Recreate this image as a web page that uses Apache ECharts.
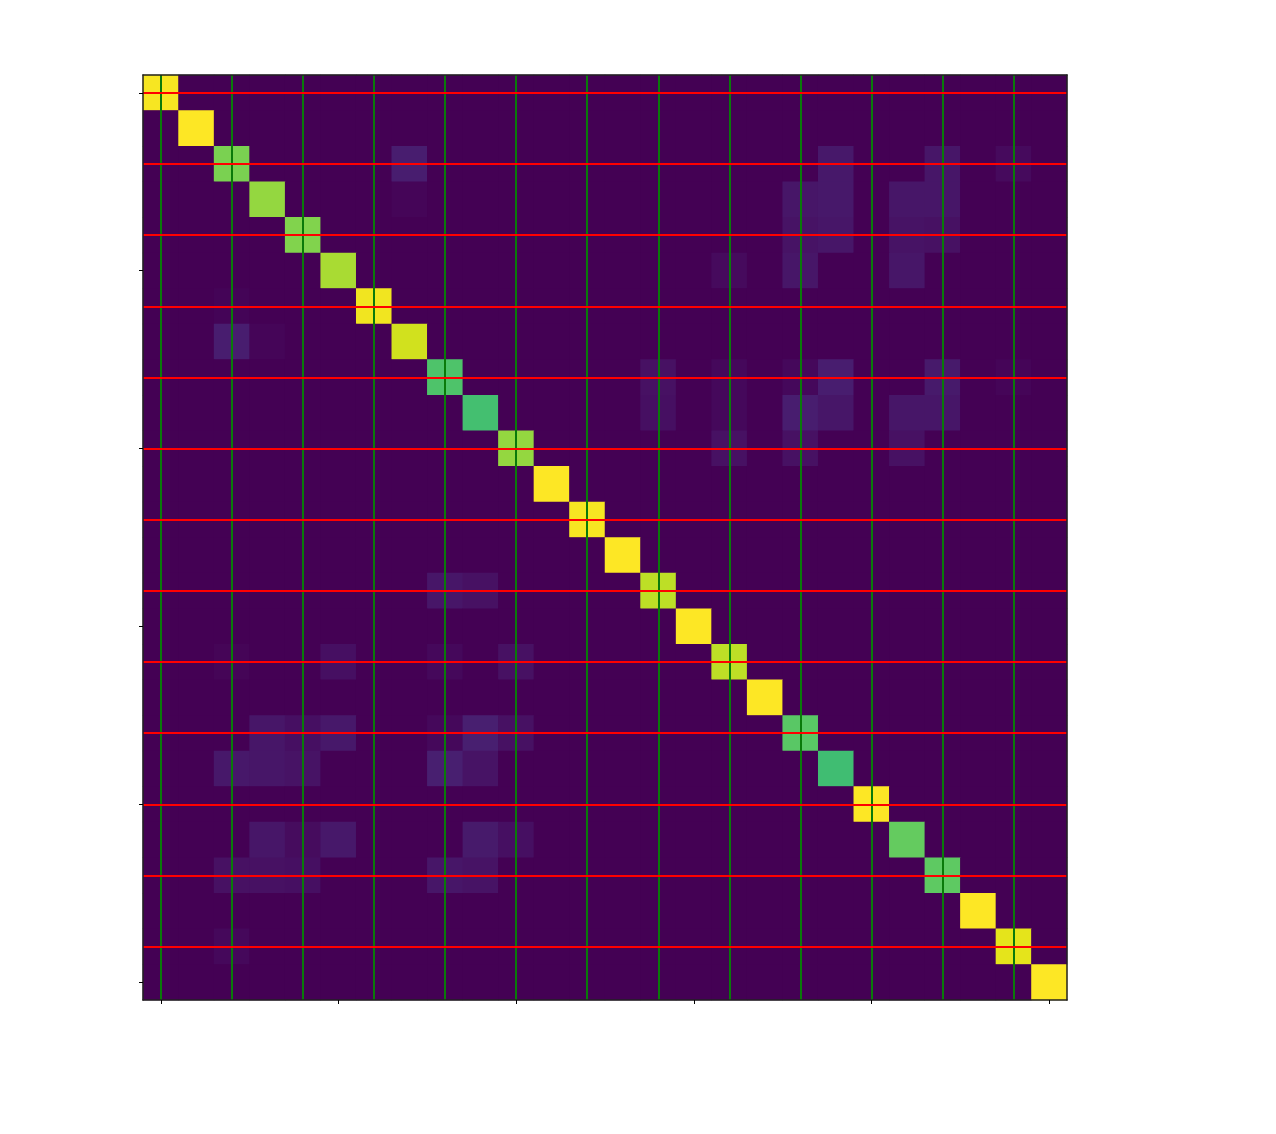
<!DOCTYPE html>
<html><head><meta charset="utf-8">
<script src="https://cdn.jsdelivr.net/npm/echarts@6/dist/echarts.min.js"></script>
<style>html,body{margin:0;padding:0;background:#fff}#c{width:1276px;height:1134px}</style>
</head><body><div id="c"></div>
<script>
// ---- data ----
const categories = ['0','1','2','3','4','5','6','7','8','9','10','11','12','13','14','15','16','17','18','19','20','21','22','23','24','25'];
const diagonalValues = [0.99,1.00,0.80,0.84,0.81,0.87,0.98,0.93,0.72,0.70,0.84,1.00,0.99,1.00,0.90,1.00,0.90,1.00,0.74,0.69,1.00,0.76,0.75,1.00,0.96,1.00];
// faint off-diagonal cells: [row, col, value]
const offDiagonal = [
  [2,7,0.08],[3,7,0.012],[6,2,0.008],[7,2,0.08],[7,3,0.012],
  [2,19,0.065],[3,19,0.065],[4,19,0.06],[3,18,0.06],[4,18,0.05],[5,18,0.06],[5,16,0.025],
  [2,22,0.06],[3,22,0.06],[4,22,0.045],[3,21,0.06],[4,21,0.05],[5,21,0.06],[2,24,0.025],
  [8,14,0.045],[9,14,0.04],[8,16,0.02],[9,16,0.02],[10,16,0.045],
  [8,18,0.02],[9,18,0.08],[10,18,0.045],[8,19,0.08],[9,19,0.06],
  [9,21,0.06],[10,21,0.045],[8,22,0.07],[9,22,0.06],[8,24,0.012],
  [14,8,0.06],[14,9,0.045],[16,2,0.01],[16,5,0.04],[16,8,0.02],[16,10,0.045],
  [18,3,0.06],[18,4,0.04],[18,5,0.065],[18,8,0.02],[18,9,0.085],[18,10,0.045],
  [19,2,0.065],[19,3,0.06],[19,4,0.05],[19,8,0.085],[19,9,0.05],
  [21,3,0.06],[21,4,0.03],[21,5,0.065],[21,9,0.07],[21,10,0.04],
  [22,2,0.045],[22,3,0.045],[22,4,0.04],[22,8,0.06],[22,9,0.05],
  [24,2,0.02]
];
const tickIndices = [0,5,10,15,20,25];
const redLineRows = [0,2,4,6,8,10,12,14,16,18,20,22,24];
const greenLineCols = [0,2,4,6,8,10,12,14,16,18,20,22,24];

// ---- build ----
const n = categories.length;
const matrix = [];
for (let r = 0; r < n; r++) { matrix.push(new Array(n).fill(0)); matrix[r][r] = diagonalValues[r]; }
offDiagonal.forEach(([r, c, v]) => { matrix[r][c] = v; });
const heatData = [];
for (let r = 0; r < n; r++) for (let c = 0; c < n; c++) heatData.push([c, r, matrix[r][c]]);

const viridis = ['#440154','#471365','#482475','#463480','#414487','#3b528b','#355f8d','#2f6c8e','#2a788e','#25848e','#21918c','#1e9c89','#22a884','#2fb47c','#44bf70','#5ec962','#7ad151','#9bd93c','#bddf26','#dfe318','#fde725'];

const tickFn = (i) => tickIndices.indexOf(i) >= 0;
const frameLine = {show: true, lineStyle: {color: '#222', width: 1.5}};
const chart = echarts.init(document.getElementById('c'), null, {renderer: 'canvas'});
chart.setOption({
  animation: false,
  backgroundColor: '#ffffff',
  grid: {left: 143, top: 75, right: 209, bottom: 134, show: true, borderWidth: 0, backgroundColor: '#440154'},
  xAxis: [
    {type: 'category', data: categories, position: 'bottom', z: 10,
      axisLine: frameLine, axisLabel: {show: false}, splitLine: {show: false},
      axisTick: {show: true, alignWithLabel: true, interval: tickFn, length: 4, lineStyle: {color: '#000', width: 1}}},
    {type: 'category', data: categories, position: 'top', z: 10,
      axisLine: frameLine, axisLabel: {show: false}, axisTick: {show: false}, splitLine: {show: false}}
  ],
  yAxis: [
    {type: 'category', data: categories, inverse: true, position: 'left', z: 10,
      axisLine: frameLine, axisLabel: {show: false}, splitLine: {show: false},
      axisTick: {show: true, alignWithLabel: true, interval: tickFn, length: 4, lineStyle: {color: '#000', width: 1}}},
    {type: 'category', data: categories, inverse: true, position: 'right', z: 10,
      axisLine: frameLine, axisLabel: {show: false}, axisTick: {show: false}, splitLine: {show: false}}
  ],
  visualMap: {show: false, type: 'continuous', min: 0, max: 1, dimension: 2, seriesIndex: 0, inRange: {color: viridis}},
  series: [
    {type: 'heatmap', data: heatData, z: 2, itemStyle: {borderWidth: 0}, emphasis: {disabled: true}},
    {type: 'line', data: [], z: 5, silent: true,
      markLine: {silent: true, symbol: ['none','none'], label: {show: false}, animation: false,
        lineStyle: {color: '#0a7a0a', width: 2, type: 'solid'},
        data: greenLineCols.map(c => ({xAxis: c}))}},
    {type: 'line', data: [], z: 6, silent: true,
      markLine: {silent: true, symbol: ['none','none'], label: {show: false}, animation: false,
        lineStyle: {color: '#ff0000', width: 2, type: 'solid'},
        data: redLineRows.map(r => ({yAxis: r}))}}
  ]
});
</script></body></html>
